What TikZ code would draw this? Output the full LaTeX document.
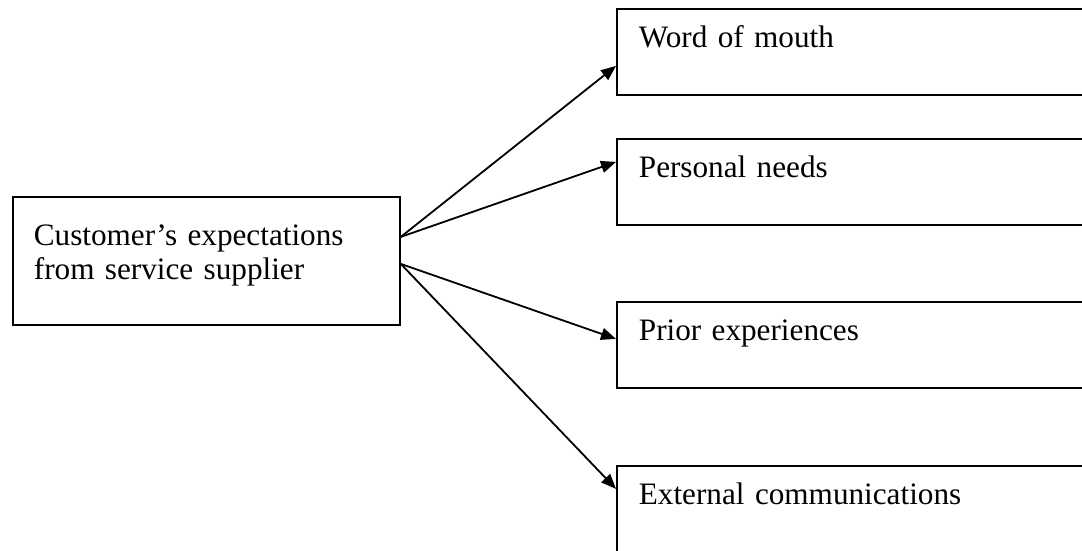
\documentclass[tikz,border=0pt]{standalone}
\usepackage{fontspec}
\setmainfont{Liberation Serif}
\usetikzlibrary{arrows.meta}

\begin{document}
\begin{tikzpicture}[x=1pt,y=-1pt]
      \tikzstyle{box}=[draw,line width=1.8pt,anchor=north west,inner ysep=0pt,align=left,font=\fontsize{31.2}{34}\selectfont]
      \tikzstyle{arr}=[-{Triangle[length=15pt,width=12pt]},line width=1.8pt]
      \useasboundingbox (0,0) rectangle (1082,550);
      \clip (0,0) rectangle (1082,550);
      \node[box,text width=345pt,inner xsep=21pt,text height=49pt,text depth=79pt] at (12,196) (cust) {Customer's expectations\\from service supplier};
      \foreach \n/\t/\y in {word/Word of mouth/8,needs/Personal needs/138,prior/Prior experiences/301,ext/External communications/465}
        {\node[box,text width=436pt,inner xsep=22pt,text height=39pt,text depth=47pt] at (616,\y) (\n) {\t};}
      \foreach \s/\n/\d in {24/word/-14,24/needs/20,-3/prior/6,-3/ext/20}
        {\draw[arr] ([yshift=\s pt]cust.east) -- ([yshift=\d pt]\n.west);}
    \end{tikzpicture}
\end{document}
